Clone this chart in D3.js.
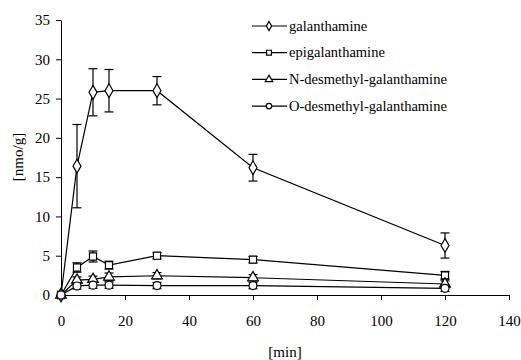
<!DOCTYPE html>
<html>
<head>
<meta charset="utf-8">
<script src="https://cdn.jsdelivr.net/npm/d3@7"></script>
<style>
  body { margin: 0; background: #fff; }
  text { font-family: "Liberation Serif", "Times New Roman", serif; fill: #000; }
</style>
</head>
<body>
<svg id="chart" width="521" height="360"></svg>
<script>
// sampling times [min]
var times = [0, 5, 10, 15, 30, 60, 120];

var galanthamine      = [0, 16.4, 25.8, 26.0, 26.0, 16.2, 6.3];
var galanthamineErr   = [0, 5.3, 3.0, 2.7, 1.8, 1.7, 1.6];
var epigal            = [0, 3.5, 4.9, 3.8, 5.0, 4.5, 2.5];
var epigalErr         = [0, 0.6, 0.7, 0.5, 0.4, 0.4, 0.5];
var nDesmethyl        = [0, 1.9, 2.0, 2.3, 2.45, 2.2, 1.4];
var nDesmethylErr     = [0, 0.4, 0.4, 0.5, 0.4, 0.4, 0.4];
var oDesmethyl        = [0, 1.15, 1.25, 1.25, 1.2, 1.2, 0.85];
var oDesmethylErr     = [0, 0.4, 0.4, 0.4, 0.4, 0.4, 0.4];

var seriesNames = ["galanthamine", "epigalanthamine", "N-desmethyl-galanthamine", "O-desmethyl-galanthamine"];
var xTicks = [0, 20, 40, 60, 80, 100, 120, 140];
var yTicks = [0, 5, 10, 15, 20, 25, 30, 35];

var series = [
  {name: seriesNames[0], values: galanthamine, err: galanthamineErr, symbol: d3.symbolDiamond},
  {name: seriesNames[1], values: epigal, err: epigalErr, symbol: d3.symbolSquare},
  {name: seriesNames[2], values: nDesmethyl, err: nDesmethylErr, symbol: d3.symbolTriangle},
  {name: seriesNames[3], values: oDesmethyl, err: oDesmethylErr, symbol: d3.symbolCircle}
];

var svg = d3.select("#chart");
var margin = {left: 61, right: 12, top: 20, bottom: 65};
var width = 521 - margin.left - margin.right;
var height = 360 - margin.top - margin.bottom;

var x = d3.scaleLinear().domain([0, 140]).range([0, width]);
var y = d3.scaleLinear().domain([0, 35]).range([height, 0]);

var g = svg.append("g").attr("transform", "translate(" + margin.left + "," + margin.top + ")");

// axes
var xAxis = g.append("g")
  .attr("transform", "translate(0," + height + ")")
  .call(d3.axisBottom(x).tickValues(xTicks).tickSize(5).tickSizeOuter(0).tickPadding(15));
var yAxis = g.append("g")
  .call(d3.axisLeft(y).tickValues(yTicks).tickSize(5).tickSizeOuter(0).tickPadding(6));

[xAxis, yAxis].forEach(function(a){
  a.selectAll("path, line").attr("stroke", "#000").attr("stroke-width", 1);
  a.selectAll("text").style("font-family", "Liberation Serif, serif").style("font-size", "15px").attr("fill", "#000");
});

// axis titles
g.append("text")
  .attr("x", width / 2).attr("y", height + 62)
  .attr("text-anchor", "middle")
  .style("font-size", "15px")
  .text("[min]");

g.append("text")
  .attr("transform", "translate(" + (18 - margin.left) + "," + (157 - margin.top) + ") rotate(-90)")
  .attr("text-anchor", "middle")
  .attr("dy", "0.35em")
  .style("font-size", "15px")
  .text("[nmo/g]");

var line = d3.line()
  .x(function(d, i){ return x(times[i]); })
  .y(function(d){ return y(d); });

var capW = 4.5;

series.forEach(function(s){
  var sg = g.append("g");

  // error bars
  s.values.forEach(function(v, i){
    if (!s.err[i]) return;
    var cx = x(times[i]);
    var top = y(v + s.err[i]), bot = y(v - s.err[i]);
    sg.append("line").attr("x1", cx).attr("x2", cx).attr("y1", top).attr("y2", bot)
      .attr("stroke", "#000").attr("stroke-width", 1.2);
    [top, bot].forEach(function(yy){
      sg.append("line").attr("x1", cx - capW).attr("x2", cx + capW).attr("y1", yy).attr("y2", yy)
        .attr("stroke", "#000").attr("stroke-width", 1.2);
    });
  });

  sg.append("path")
    .datum(s.values)
    .attr("d", line)
    .attr("fill", "none")
    .attr("stroke", "#000")
    .attr("stroke-width", 1.2);

  sg.selectAll("path.pt")
    .data(s.values)
    .enter().append("path")
    .attr("class", "pt")
    .attr("transform", function(d, i){ return "translate(" + x(times[i]) + "," + y(d) + ")"; })
    .attr("d", d3.symbol().type(s.symbol).size(s.symbol === d3.symbolDiamond ? 55 : 50))
    .attr("fill", "#fff")
    .attr("stroke", "#000")
    .attr("stroke-width", 1.2);
});

// legend
var legend = svg.append("g").attr("transform", "translate(252,26)");
series.forEach(function(s, i){
  var row = legend.append("g").attr("transform", "translate(0," + (i * 26.7) + ")");
  row.append("line").attr("x1", 0).attr("x2", 35).attr("y1", 0).attr("y2", 0)
    .attr("stroke", "#000").attr("stroke-width", 1.2);
  row.append("path")
    .attr("transform", "translate(17,0)")
    .attr("d", d3.symbol().type(s.symbol).size(24))
    .attr("fill", "#fff").attr("stroke", "#000").attr("stroke-width", 1.2);
  row.append("text")
    .attr("x", 37).attr("y", 0).attr("dy", "0.32em")
    .style("font-size", "14.5px")
    .text(s.name);
});
</script>
</body>
</html>
